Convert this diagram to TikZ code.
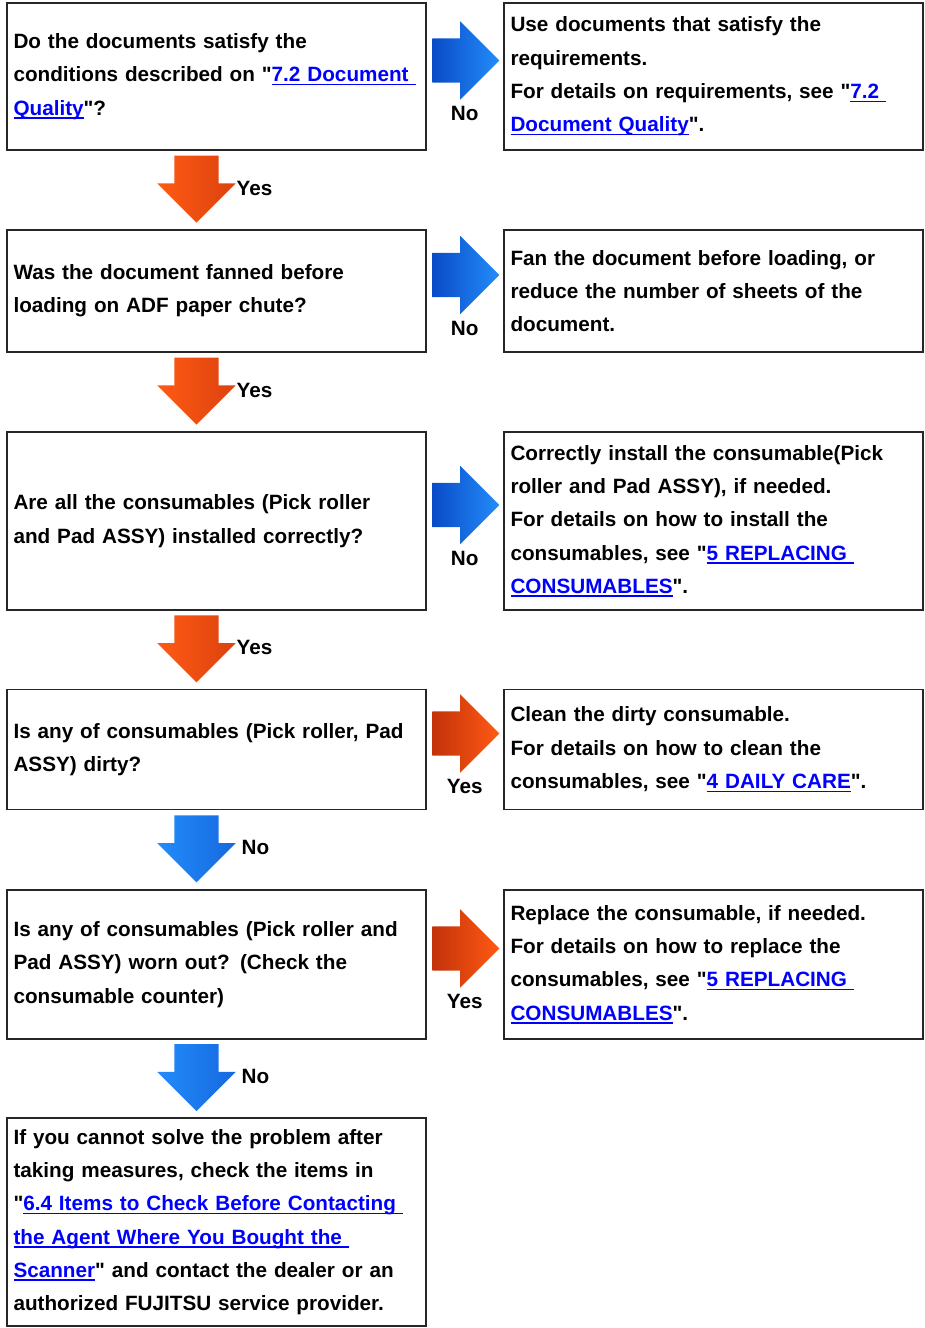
\documentclass[tikz,border=0pt]{standalone}
\usepackage{fontspec}
\setmainfont{Liberation Sans}
\usepackage{tikz}
\usetikzlibrary{shapes.arrows,positioning,calc}
\definecolor{linkblue}{RGB}{0,0,255}
\definecolor{arrblue}{RGB}{35,140,250}
\definecolor{arrbluedk}{RGB}{10,75,200}
\definecolor{arrorg}{RGB}{255,90,20}
\definecolor{arrorgdk}{RGB}{195,50,10}
\newcommand{\qmark}{\textquotedbl}
\newcommand{\doclink}[1]{\textcolor{linkblue}{\setbox0=\hbox{#1}\rlap{\rule[-3.5pt]{\wd0}{1.5pt}}\box0}}

\begin{document}
\begin{tikzpicture}[x=1pt,y=-1pt,
  box/.style={draw=black!85,line width=1.5pt,text width=406pt,inner xsep=6.5pt,align=left,font={\fontsize{20.7}{33.3}\selectfont\bfseries}},
  lbl/.style={inner sep=0pt,font={\fontsize{20.7}{25}\selectfont\bfseries}},
  flow/.style={single arrow,minimum height=67pt,inner xsep=0pt,inner ysep=22pt,single arrow head extend=17pt,draw=none},
  blueR/.style={flow,left color=arrbluedk,right color=arrblue},
  orgR/.style={flow,left color=arrorgdk,right color=arrorg},
  blueD/.style={flow,rotate=-90,left color=arrblue,right color=arrbluedk!55!arrblue},
  orgD/.style={flow,rotate=-90,left color=arrorg,right color=arrorgdk!60!arrorg}]
\useasboundingbox (0,0) rectangle (924,1328);
\node[box,minimum height=147pt] (q1) at (216.5,76.5) {Do the documents satisfy the\\conditions described on \qmark\doclink{7.2 Document }\\\doclink{Quality}\qmark?};
\node[box,minimum height=122pt] (q2) at (216.5,291) {Was the document fanned before\\loading on ADF paper chute?};
\node[box,minimum height=178pt] (q3) at (216.5,521) {Are all the consumables (Pick roller\\and Pad ASSY) installed correctly?};
\node[box,minimum height=120pt] (q4) at (216.5,749.5) {Is any of consumables (Pick roller, Pad\\ASSY) dirty?};
\node[box,minimum height=149pt] (q5) at (216.5,964.5) {Is any of consumables (Pick roller and\\Pad ASSY) worn out? (Check the\\consumable counter)};
\node[box,minimum height=208pt] (q6) at (216.5,1222) {If you cannot solve the problem after\\taking measures, check the items in\\\qmark\doclink{6.4 Items to Check Before Contacting }\\\doclink{the Agent Where You Bought the }\\\doclink{Scanner}\qmark{} and contact the dealer or an\\authorized FUJITSU service provider.};
\node[box,minimum height=147pt,right=76.5pt of q1] (s1) {Use documents that satisfy the\\requirements.\\For details on requirements, see \qmark\doclink{7.2 }\\\doclink{Document Quality}\qmark.};
\node[box,minimum height=122pt,right=76.5pt of q2] (s2) {Fan the document before loading, or\\reduce the number of sheets of the\\document.};
\node[box,minimum height=178pt,right=76.5pt of q3] (s3) {Correctly install the consumable(Pick\\roller and Pad ASSY), if needed.\\For details on how to install the\\consumables, see \qmark\doclink{5 REPLACING }\\\doclink{CONSUMABLES}\qmark.};
\node[box,minimum height=120pt,right=76.5pt of q4] (s4) {Clean the dirty consumable.\\For details on how to clean the\\consumables, see \qmark\doclink{4 DAILY CARE}\qmark.};
\node[box,minimum height=149pt,right=76.5pt of q5] (s5) {Replace the consumable, if needed.\\For details on how to replace the\\consumables, see \qmark\doclink{5 REPLACING }\\\doclink{CONSUMABLES}\qmark.};
\node[blueR] (r1) at ($(q1.east)+(28,-16)$) {};
\node[blueR] (r2) at ($(q2.east)+(28,-16)$) {};
\node[blueR] (r3) at ($(q3.east)+(28,-16)$) {};
\node[orgR] (r4) at ($(q4.east)+(28,-16)$) {};
\node[orgR] (r5) at ($(q5.east)+(28,-16)$) {};
\node[lbl] (lr1) at ($(q1.east)+(38,37)$) {No};
\node[lbl] (lr2) at ($(q2.east)+(38,37)$) {No};
\node[lbl] (lr3) at ($(q3.east)+(38,37)$) {No};
\node[lbl] (lr4) at ($(q4.east)+(38,37)$) {Yes};
\node[lbl] (lr5) at ($(q5.east)+(38,37)$) {Yes};
\node[orgD] (d1) at ($(q1.south)!0.5!(q2.north)+(-20,-12)$) {};
\node[orgD] (d2) at ($(q2.south)!0.5!(q3.north)+(-20,-12)$) {};
\node[orgD] (d3) at ($(q3.south)!0.5!(q4.north)+(-20,-12)$) {};
\node[blueD] (d4) at ($(q4.south)!0.5!(q5.north)+(-20,-12)$) {};
\node[blueD] (d5) at ($(q5.south)!0.5!(q6.north)+(-20,-12)$) {};
\node[lbl,anchor=west] (ld1) at ($(d1.center)+(40,10)$) {Yes};
\node[lbl,anchor=west] (ld2) at ($(d2.center)+(40,10)$) {Yes};
\node[lbl,anchor=west] (ld3) at ($(d3.center)+(40,10)$) {Yes};
\node[lbl,anchor=west] (ld4) at ($(d4.center)+(45,10)$) {No};
\node[lbl,anchor=west] (ld5) at ($(d5.center)+(45,10)$) {No};
\end{tikzpicture}
\end{document}
